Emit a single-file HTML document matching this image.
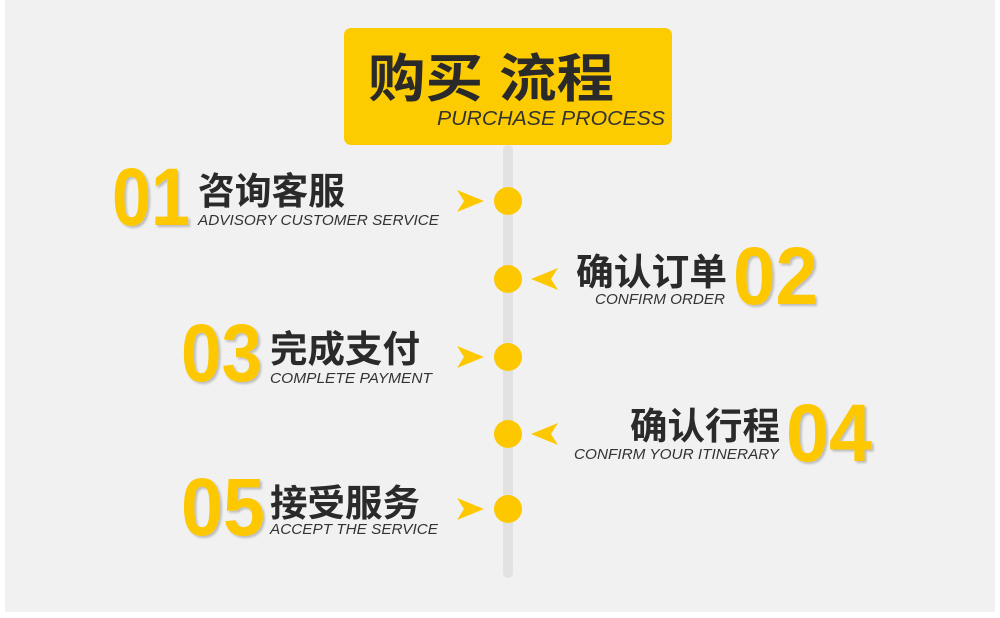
<!DOCTYPE html>
<html><head><meta charset="utf-8"><style>
html,body{margin:0;padding:0;background:#fff;width:1000px;height:618px;overflow:hidden}
</style></head><body>
<svg width="1000" height="618" viewBox="0 0 1000 618" xmlns="http://www.w3.org/2000/svg">
<defs>
<filter id="sh" x="-10%" y="-10%" width="130%" height="130%"><feDropShadow dx="2" dy="2" stdDeviation="1" flood-color="#000" flood-opacity="0.22"/></filter>
</defs>
<rect x="5" y="0" width="990" height="612" fill="#f1f1f1"/>
<rect x="344" y="28" width="328" height="117" rx="7" fill="#fdcc00"/>
<text x="368" y="97" font-family="Liberation Sans, Noto Sans CJK SC, sans-serif" font-weight="bold" font-size="52" fill="#2a2a2a" textLength="246" lengthAdjust="spacingAndGlyphs">购买 流程</text>
<text x="437" y="125" font-family="Liberation Sans, sans-serif" font-style="italic" font-size="20" fill="#333" textLength="228" lengthAdjust="spacingAndGlyphs">PURCHASE PROCESS</text>
<rect x="503" y="145" width="10" height="433" rx="5" fill="#e2e2e2"/>
<g fill="#fdc800">
<circle cx="508" cy="201" r="14"/><circle cx="508" cy="279" r="14"/><circle cx="508" cy="357" r="14"/><circle cx="508" cy="434" r="14"/><circle cx="508" cy="509" r="14"/>
<path d="M457,190 L484,201 L457,212 L464,201Z"/>
<path d="M457,346 L484,357 L457,368 L464,357Z"/>
<path d="M457,498 L484,509 L457,520 L464,509Z"/>
<path d="M558,268 L531,279 L558,290 L551,279Z"/>
<path d="M558,423 L531,434 L558,445 L551,434Z"/>
</g>
<g font-family="Liberation Sans Narrow, Liberation Sans, sans-serif" font-weight="bold" font-size="82" fill="#fdc800" filter="url(#sh)">
<text x="112" y="225" textLength="78" lengthAdjust="spacingAndGlyphs">01</text>
<text x="733" y="304" textLength="85" lengthAdjust="spacingAndGlyphs">02</text>
<text x="181" y="381" textLength="81" lengthAdjust="spacingAndGlyphs">03</text>
<text x="786" y="461" textLength="86" lengthAdjust="spacingAndGlyphs">04</text>
<text x="181" y="535" textLength="84" lengthAdjust="spacingAndGlyphs">05</text>
</g>
<g font-family="Liberation Sans, Noto Sans CJK SC, sans-serif" font-weight="bold" font-size="37" fill="#2a2a2a">
<text x="198" y="204" textLength="147" lengthAdjust="spacingAndGlyphs">咨询客服</text>
<text x="576" y="285" textLength="151" lengthAdjust="spacingAndGlyphs">确认订单</text>
<text x="270" y="362" textLength="150" lengthAdjust="spacingAndGlyphs">完成支付</text>
<text x="630" y="439" textLength="150" lengthAdjust="spacingAndGlyphs">确认行程</text>
<text x="270" y="516" textLength="150" lengthAdjust="spacingAndGlyphs">接受服务</text>
</g>
<g font-family="Liberation Sans, sans-serif" font-style="italic" font-size="15" fill="#333">
<text x="198" y="225" textLength="241" lengthAdjust="spacingAndGlyphs">ADVISORY CUSTOMER SERVICE</text>
<text x="595" y="304" textLength="130" lengthAdjust="spacingAndGlyphs">CONFIRM ORDER</text>
<text x="270" y="383" textLength="162" lengthAdjust="spacingAndGlyphs">COMPLETE PAYMENT</text>
<text x="574" y="459" textLength="205" lengthAdjust="spacingAndGlyphs">CONFIRM YOUR ITINERARY</text>
<text x="270" y="534" textLength="168" lengthAdjust="spacingAndGlyphs">ACCEPT THE SERVICE</text>
</g>
</svg>
</body></html>
